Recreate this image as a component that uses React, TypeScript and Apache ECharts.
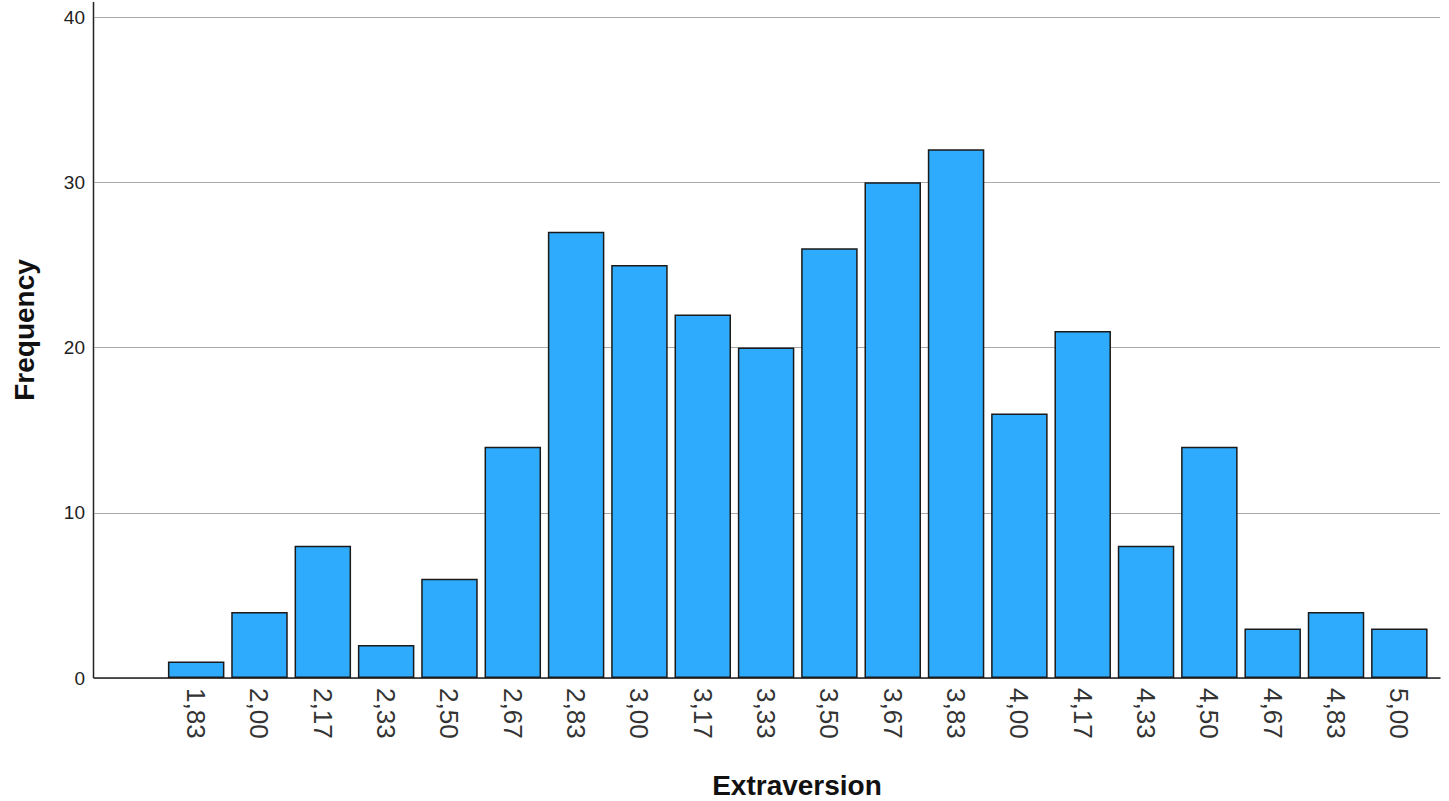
import React, { useEffect, useRef } from "react";
import * as echarts from "echarts";

const categories = ["1,83", "2,00", "2,17", "2,33", "2,50", "2,67", "2,83", "3,00", "3,17", "3,33", "3,50", "3,67", "3,83", "4,00", "4,17", "4,33", "4,50", "4,67", "4,83", "5,00"];
const frequencies = [1, 4, 8, 2, 6, 14, 27, 25, 22, 20, 26, 30, 32, 16, 21, 8, 14, 3, 4, 3];
const yTicks = { min: 0, max: 40, interval: 10 };
const xTitle = "Extraversion";
const yTitle = "Frequency";

const FONT = "Arial, 'Liberation Sans', sans-serif";

export default function App() {
  const ref = useRef<HTMLDivElement>(null);
  useEffect(() => {
    if (!ref.current) return;
    const chart = echarts.init(ref.current, null, { renderer: "svg" });
    chart.setOption({
      animation: false,
      backgroundColor: "#ffffff",
      grid: [
        { left: 94, right: 9, top: 17, bottom: 123 },
        { left: 164.5, right: 18, top: 17, bottom: 123 },
      ],
      xAxis: [
        {
          gridIndex: 0,
          type: "value",
          min: 0,
          max: 1,
          axisLine: { show: true, lineStyle: { color: "#222", width: 1.5 } },
          axisTick: { show: false },
          axisLabel: { show: false },
          splitLine: { show: false },
        },
        {
          gridIndex: 1,
          type: "category",
          data: categories,
          axisLine: { show: false },
          axisTick: { show: false },
          axisLabel: {
            rotate: -90,
            margin: 10,
            fontSize: 26,
            color: "#333",
            fontFamily: FONT,
            interval: 0,
          },
        },
      ],
      yAxis: [
        {
          gridIndex: 0,
          type: "value",
          min: yTicks.min,
          max: yTicks.max,
          interval: yTicks.interval,
          axisLine: { show: false },
          axisTick: { show: false },
          axisLabel: { fontSize: 19, color: "#222", margin: 9, fontFamily: FONT },
          splitLine: { show: true, lineStyle: { color: "#a9a9a9", width: 1.2 } },
        },
        {
          gridIndex: 1,
          type: "value",
          min: yTicks.min,
          max: yTicks.max,
          interval: yTicks.interval,
          show: false,
        },
      ],
      series: [
        {
          type: "bar",
          xAxisIndex: 1,
          yAxisIndex: 1,
          data: frequencies,
          barWidth: 56.5,
          itemStyle: { color: "#2eabfc", borderColor: "#1a1a1a", borderWidth: 1.5 },
        },
      ],
      graphic: [
        {
          type: "line",
          shape: { x1: 93.5, y1: 2, x2: 93.5, y2: 678 },
          style: { stroke: "#222", lineWidth: 1.5 },
        },
        {
          type: "text",
          x: 797,
          y: 785,
          style: {
            text: xTitle,
            font: `bold 28px ${FONT}`,
            fill: "#111",
            textAlign: "center",
            textVerticalAlign: "middle",
          },
        },
        {
          type: "text",
          x: 24,
          y: 330,
          rotation: Math.PI / 2,
          style: {
            text: yTitle,
            font: `bold 28px ${FONT}`,
            fill: "#111",
            textAlign: "center",
            textVerticalAlign: "middle",
          },
        },
      ],
    });
    return () => chart.dispose();
  }, []);
  return <div ref={ref} style={{ width: 1449, height: 801, position: "absolute", left: 0, top: 0 }} />;
}
